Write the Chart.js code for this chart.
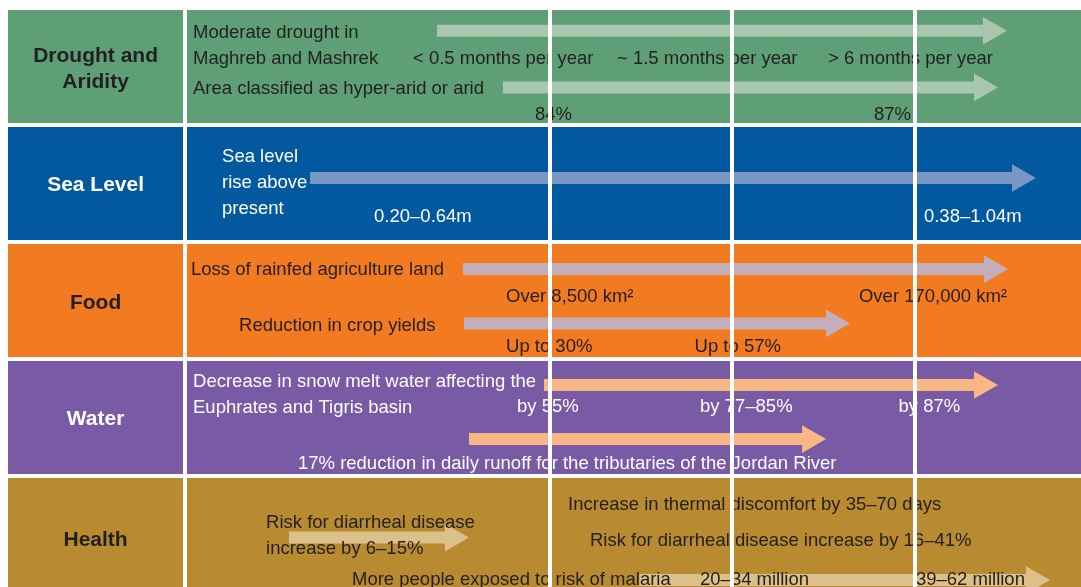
<!DOCTYPE html>
<html>
<head>
<meta charset="utf-8">
<title>Climate impacts by sector</title>
<script src="https://cdn.jsdelivr.net/npm/chart.js@4.4.1/dist/chart.umd.min.js"></script>
<style>
  html, body { margin: 0; padding: 0; background: #fff; }
  #wrap { position: relative; width: 1081px; height: 587px; }
</style>
</head>
<body>
<div id="wrap"><canvas id="chart"></canvas></div>
<script>
'use strict';

// Sector rows, top to bottom (y axis: one unit per row)
const SECTORS = ['Drought and\nAridity', 'Sea Level', 'Food', 'Water', 'Health'];
const SECTOR_Y = [0.496, 1.487, 2.496, 3.487, 4.521];
const SECTOR_FILL = ['#5f9f76', '#02599f', '#f27b21', '#785aa5', '#b88b30'];
const ARROW_FILL = ['#a9c6b0', '#7897c5', '#c3aebc', '#f9b785', '#dbc089'];
const INK = ['#231f20', '#ffffff', '#231f20', '#ffffff', '#231f20'];

// x axis: column units; white rules between the columns
const COLUMN_BREAKS = [3, 4, 5];
const LABEL_CELL = [0.03, 0.989];
const PANEL_CELL = [1.011, 6.2];
const LABEL_X = 0.51;
const ROW_SPAN = 0.966;

// arrows: row, height, tail, head
const ARROW_ROW  = [0, 0, 1, 2, 2, 3, 3, 4, 4];
const ARROW_Y    = [0.178, 0.662, 1.436, 2.214, 2.679, 3.205, 3.667, 4.509, 4.872];
const ARROW_FROM = [2.381, 2.742, 1.685, 2.523, 2.529, 2.967, 2.556, 1.570, 3.49];
const ARROW_TO   = [5.416, 5.367, 5.575, 5.422, 4.556, 5.367, 4.425, 2.468, 5.652];

// notes written inside the panels
const NOTE_ROW = [0, 0, 0, 0, 0, 0, 0, 0,
                  1, 1, 1, 1, 1,
                  2, 2, 2, 2, 2, 2,
                  3, 3, 3, 3, 3, 3,
                  4, 4, 4, 4, 4, 4, 4];
const NOTE_TEXT = [
  'Moderate drought in', 'Maghreb and Mashrek', '< 0.5 months per year', '~ 1.5 months per year',
  '> 6 months per year', 'Area classified as hyper-arid or arid', '84%', '87%',
  'Sea level', 'rise above', 'present', '0.20–0.64m', '0.38–1.04m',
  'Loss of rainfed agriculture land', 'Over 8,500 km²', 'Over 170,000 km²',
  'Reduction in crop yields', 'Up to 30%', 'Up to 57%',
  'Decrease in snow melt water affecting the', 'Euphrates and Tigris basin', 'by 55%', 'by 77–85%', 'by 87%',
  '17% reduction in daily runoff for the tributaries of the Jordan River',
  'Increase in thermal discomfort by 35–70 days', 'Risk for diarrheal disease', 'increase by 6–15%',
  'Risk for diarrheal disease increase by 16–41%', 'More people exposed to risk of malaria',
  '20–34 million', '39–62 million',
];
const NOTE_X = [1.044, 1.044, 2.249, 3.367, 4.523, 1.044, 2.918, 4.775,
                1.203, 1.203, 1.203, 2.036, 5.049,
                1.033, 2.759, 4.693, 1.296, 2.759, 3.792,
                1.044, 1.044, 2.819, 3.822, 4.910, 1.619,
                3.099, 1.444, 1.444, 3.219, 1.915, 3.822, 5.005];
const NOTE_Y = [0.179, 0.402, 0.402, 0.402, 0.402, 0.658, 0.880, 0.880,
                1.239, 1.462, 1.684, 1.752, 1.752,
                2.205, 2.432, 2.432, 2.684, 2.863, 2.863,
                3.162, 3.385, 3.376, 3.376, 3.376, 3.863,
                4.214, 4.368, 4.590, 4.521, 4.855, 4.855, 4.855];

const TEXT_FONT = '18.5px "Liberation Sans", Arial, sans-serif';
const LABEL_FONT = 'bold 21px "Liberation Sans", Arial, sans-serif';

const sectorPanels = {
  id: 'sectorPanels',
  beforeDatasetsDraw(chart) {
    const { ctx, scales: { x, y } } = chart;
    ctx.save();
    SECTORS.forEach((name, i) => {
      const top = y.getPixelForValue(i);
      const bottom = y.getPixelForValue(i + ROW_SPAN);
      ctx.fillStyle = SECTOR_FILL[i];
      [LABEL_CELL, PANEL_CELL].forEach(([a, b]) => {
        const l = x.getPixelForValue(a);
        const r = x.getPixelForValue(b);
        ctx.fillRect(l, top, r - l, bottom - top);
      });
      ctx.fillStyle = INK[i];
      ctx.font = LABEL_FONT;
      ctx.textAlign = 'center';
      ctx.textBaseline = 'middle';
      const lines = name.split('\n');
      const cx = x.getPixelForValue(LABEL_X);
      const cy = y.getPixelForValue(SECTOR_Y[i]) + 1.5;
      lines.forEach((t, k) => ctx.fillText(t, cx, cy + (k - (lines.length - 1) / 2) * 26));
    });
    ctx.restore();
  },
  afterDatasetsDraw(chart) {
    const { ctx, scales: { x, y } } = chart;
    ctx.save();
    ctx.font = TEXT_FONT;
    ctx.textAlign = 'left';
    ctx.textBaseline = 'middle';
    NOTE_TEXT.forEach((t, i) => {
      ctx.fillStyle = INK[NOTE_ROW[i]];
      // +2px: canvas 'middle' sits a little high for this face
      ctx.fillText(t, x.getPixelForValue(NOTE_X[i]), y.getPixelForValue(NOTE_Y[i]) + 2);
    });
    ctx.restore();
  },
};

const datasets = ARROW_ROW.map((row, i) => ({
  data: [{ x: ARROW_FROM[i], y: ARROW_Y[i] }, { x: ARROW_TO[i], y: ARROW_Y[i] }],
  showLine: true,
  borderColor: ARROW_FILL[row],
  borderWidth: 12,
  borderCapStyle: 'butt',
  pointRadius: [0, 16],
  pointHoverRadius: [0, 16],
  pointStyle: 'triangle',
  pointRotation: 90,
  pointBackgroundColor: ARROW_FILL[row],
  pointBorderWidth: 0,
  clip: false,
}));

new Chart(document.getElementById('chart'), {
  type: 'scatter',
  data: { datasets },
  options: {
    responsive: true,
    maintainAspectRatio: false,
    animation: false,
    events: [],
    layout: { padding: 0, autoPadding: false },
    plugins: { legend: { display: false }, tooltip: { enabled: false } },
    scales: {
      x: {
        type: 'linear',
        min: -0.0137,
        max: 5.9096,
        afterBuildTicks: (axis) => { axis.ticks = COLUMN_BREAKS.map(v => ({ value: v })); },
        ticks: { display: false },
        border: { display: false },
        grid: { color: '#ffffff', lineWidth: 4, drawTicks: false, z: 1 },
      },
      y: {
        type: 'linear',
        display: false,
        reverse: true,
        min: -0.0855,
        max: 4.9316,
      },
    },
  },
  plugins: [sectorPanels],
});
</script>
</body>
</html>
